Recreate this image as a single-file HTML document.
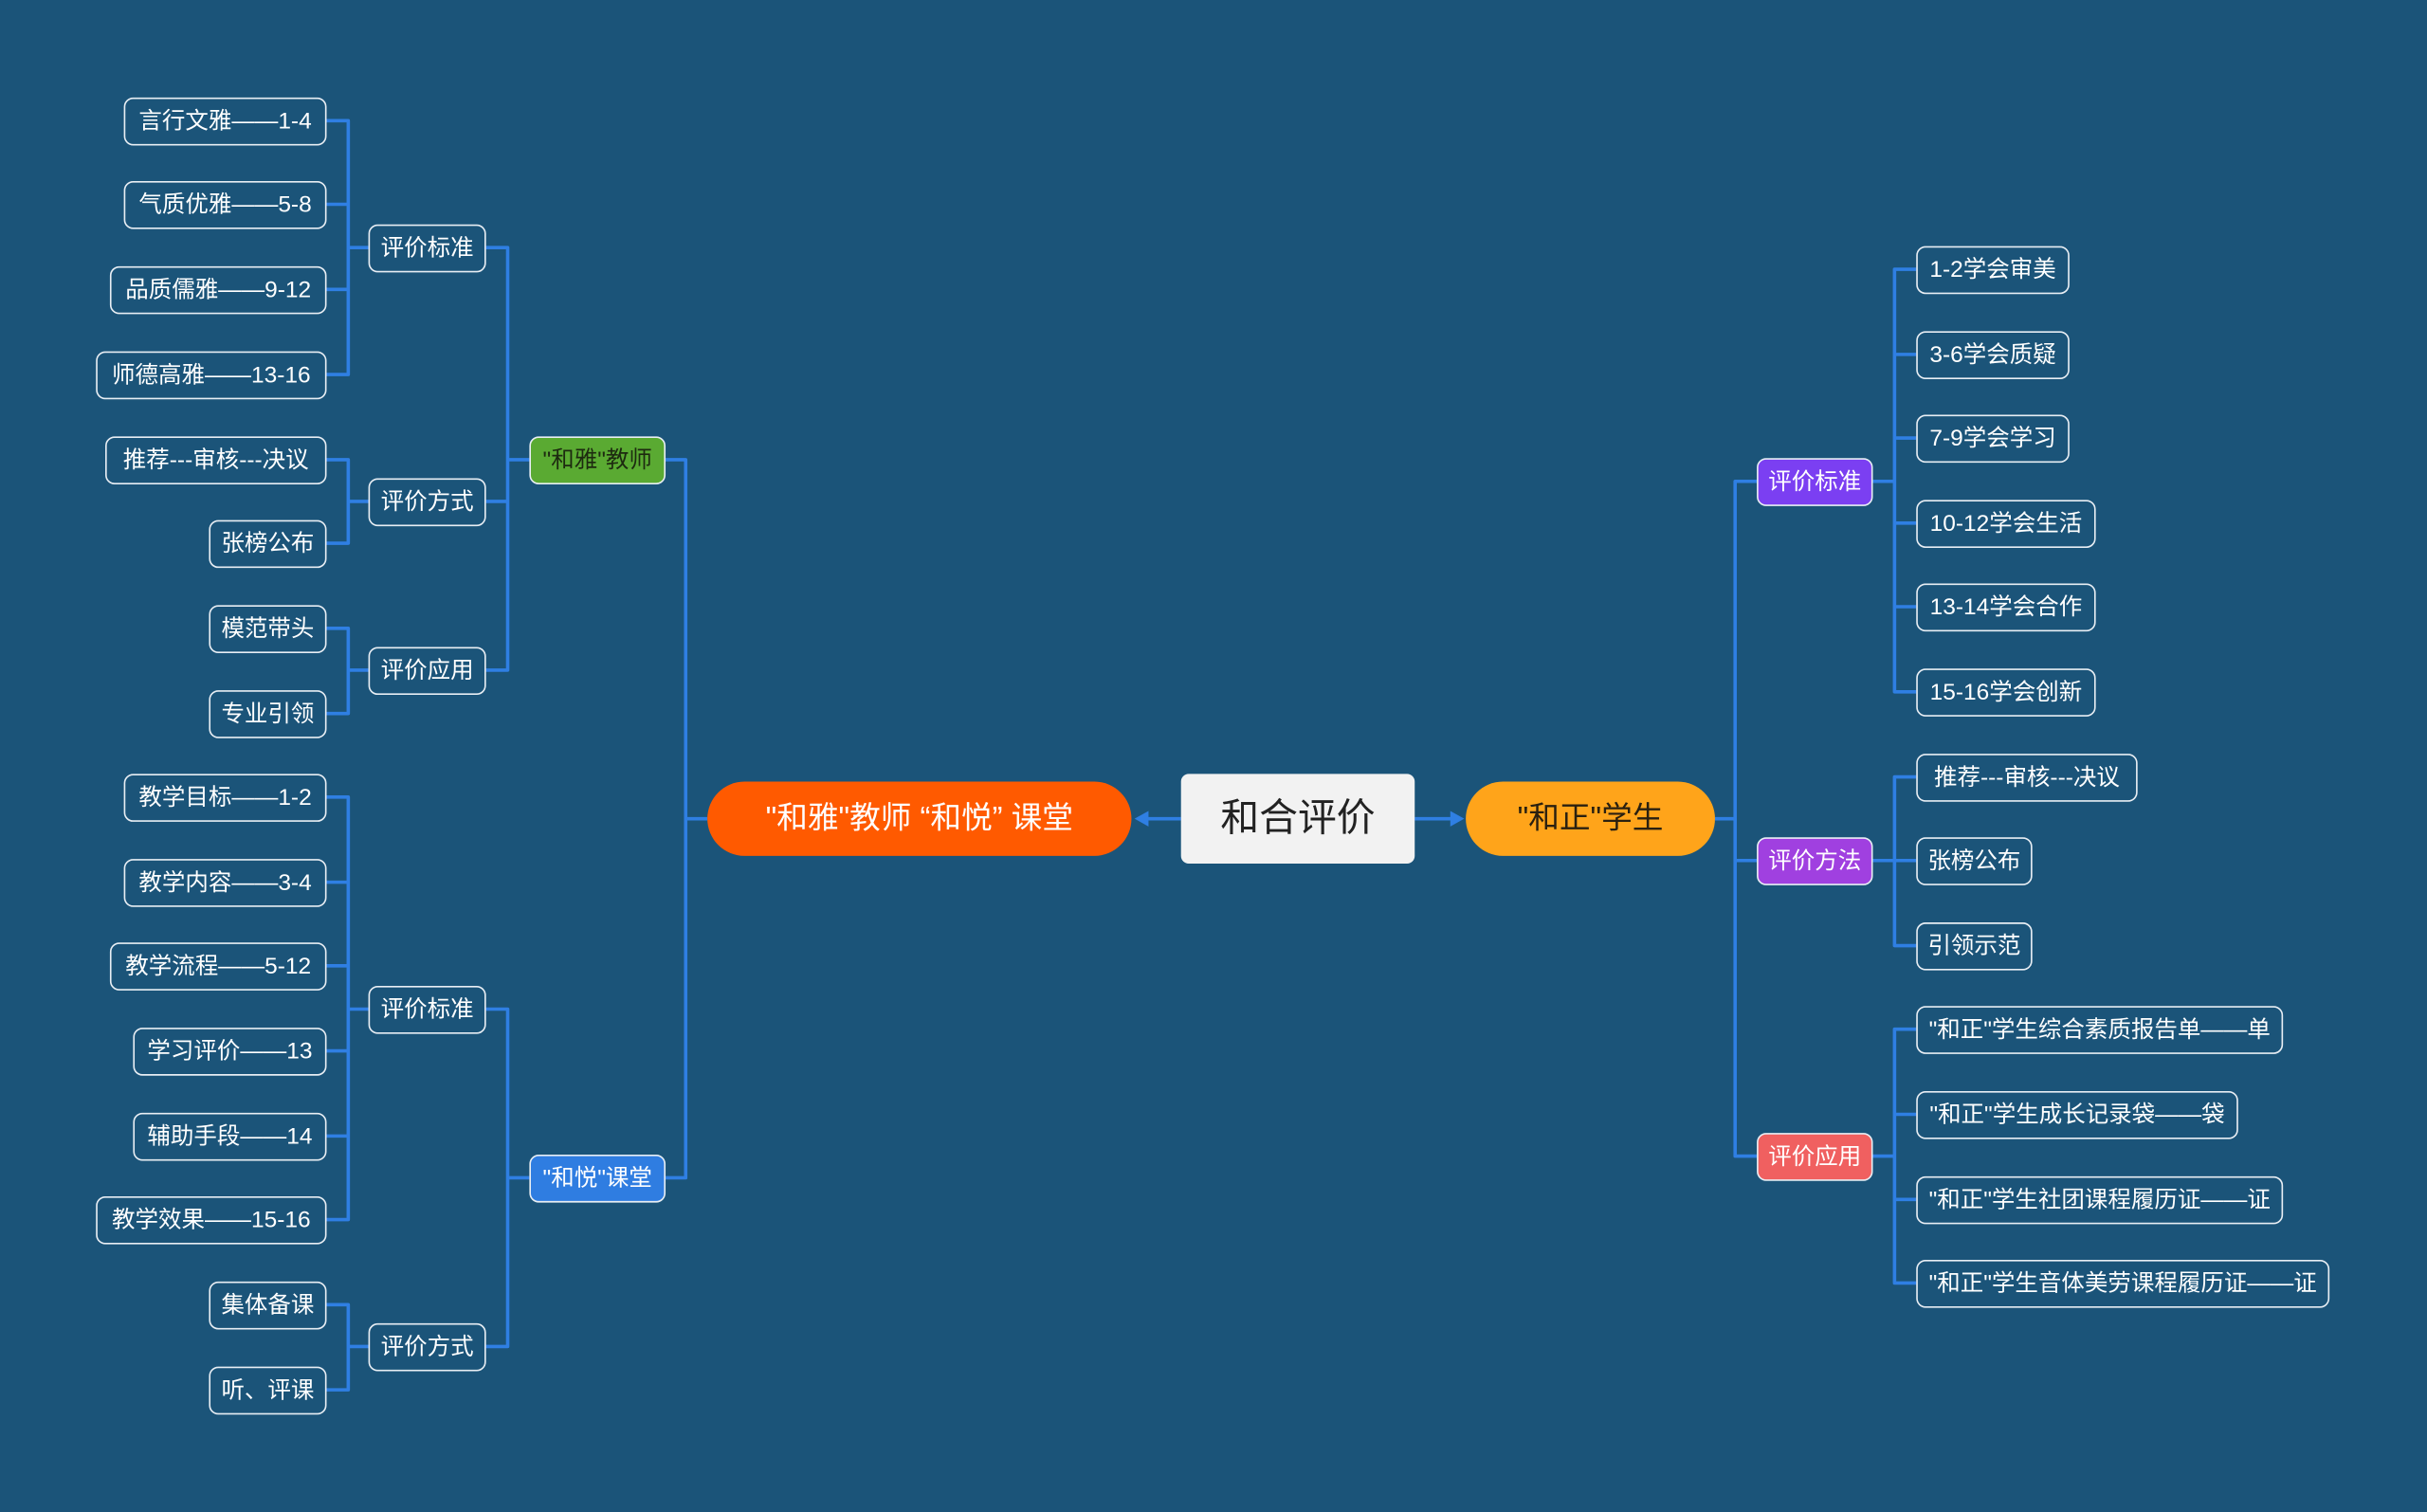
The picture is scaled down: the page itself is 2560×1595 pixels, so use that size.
<!DOCTYPE html>
<html><head><meta charset="utf-8">
<style>
html,body{margin:0;padding:0;width:2560px;height:1595px;overflow:hidden;background:#1b5479;}
#c{position:absolute;left:0;top:0;width:1568px;height:977px;transform:scale(1.63265);transform-origin:0 0;font-family:"Liberation Sans","Noto Sans CJK SC",sans-serif;}
.n{position:absolute;border:1.5px solid #e8eef4;border-radius:6px;color:#fff;font-size:15px;text-align:center;box-sizing:border-box;height:31px;line-height:30px;white-space:nowrap;background:#1b5479;}
svg{position:absolute;left:0;top:0;}
</style></head><body><div id="c">
<svg width="1568" height="977" fill="none" stroke="#2f7fe3" stroke-width="2.2" stroke-linejoin="round">
<path d="M238 160H225V78H211M225 132H211M225 160V242H211M225 187H211"/>
<path d="M238 324H225V297H211M225 324V351H211"/>
<path d="M238 433H225V406H211M225 433V461H211"/>
<path d="M238 652H225V515H211M225 570H211M225 624H211M225 679H211M225 734H211M225 652V788H211"/>
<path d="M238 870H225V843H211M225 870V898H211"/>
<path d="M342 297H328V160H314M328 297V324H314M328 297V433H314"/>
<path d="M342 761H328V652H314M328 761V870H314"/>
<path d="M457 529H443V297H430M443 529V761H430"/>
<path d="M1108 529H1121V311H1135M1121 529V556H1135M1121 529V747H1135"/>
<path d="M1210 311H1224V174H1238M1224 229H1238M1224 283H1238M1224 338H1238M1224 392H1238M1224 311V447H1238"/>
<path d="M1210 556H1224V502H1238M1224 556H1238M1224 556V611H1238"/>
<path d="M1210 747H1224V665H1238M1224 720H1238M1224 775H1238M1224 747V829H1238"/>
<path d="M763 529H740M914 529H940"/>
</svg>
<svg width="1568" height="977" fill="#2f7fe3"><path d="M733 529l9-5v10z"/><path d="M946 529l-9-5v10z"/></svg>

<div class="n" style="left:80px;top:63px;width:131px">言行文雅——1-4</div>
<div class="n" style="left:80px;top:117px;width:131px">气质优雅——5-8</div>
<div class="n" style="left:71px;top:172px;width:140px">品质儒雅——9-12</div>
<div class="n" style="left:62px;top:227px;width:149px">师德高雅——13-16</div>
<div class="n" style="left:68px;top:282px;width:143px">推荐---审核---决议</div>
<div class="n" style="left:135px;top:336px;width:76px">张榜公布</div>
<div class="n" style="left:135px;top:391px;width:76px">模范带头</div>
<div class="n" style="left:135px;top:446px;width:76px">专业引领</div>
<div class="n" style="left:80px;top:500px;width:131px">教学目标——1-2</div>
<div class="n" style="left:80px;top:555px;width:131px">教学内容——3-4</div>
<div class="n" style="left:71px;top:609px;width:140px">教学流程——5-12</div>
<div class="n" style="left:86px;top:664px;width:125px">学习评价——13</div>
<div class="n" style="left:86px;top:719px;width:125px">辅助手段——14</div>
<div class="n" style="left:62px;top:773px;width:149px">教学效果——15-16</div>
<div class="n" style="left:135px;top:828px;width:76px">集体备课</div>
<div class="n" style="left:135px;top:883px;width:76px">听、评课</div>

<div class="n" style="left:238px;top:145px;width:76px">评价标准</div>
<div class="n" style="left:238px;top:309px;width:76px">评价方式</div>
<div class="n" style="left:238px;top:418px;width:76px">评价应用</div>
<div class="n" style="left:238px;top:637px;width:76px">评价标准</div>
<div class="n" style="left:238px;top:855px;width:76px">评价方式</div>

<div class="n" style="left:342px;top:282px;width:88px;background:#5aaa32;color:#1d2a10;">"和雅"教师</div>
<div class="n" style="left:342px;top:746px;width:88px;background:#2f7de1;">"和悦"课堂</div>

<div style="position:absolute;left:457px;top:505px;width:274px;height:48px;line-height:49px;border-radius:24px;background:#ff5a00;color:#fff;font-size:20px;text-align:center;white-space:pre;">"和雅"教师 “和悦” 课堂</div>
<div style="position:absolute;left:763px;top:500px;width:151px;height:58px;line-height:59px;border-radius:5px;background:#f2f2f2;color:#222;font-size:25px;text-align:center;">和合评价</div>
<div style="position:absolute;left:947px;top:505px;width:161px;height:48px;line-height:49px;border-radius:24px;background:#ffa41a;color:#2a2010;font-size:20px;text-align:center;">"和正"学生</div>

<div class="n" style="left:1135px;top:296px;width:75px;background:#7b3ff2;">评价标准</div>
<div class="n" style="left:1135px;top:541px;width:75px;background:#a040e0;">评价方法</div>
<div class="n" style="left:1135px;top:732px;width:75px;background:#f06060;">评价应用</div>

<div class="n" style="left:1238px;top:159px;width:99px">1-2学会审美</div>
<div class="n" style="left:1238px;top:214px;width:99px">3-6学会质疑</div>
<div class="n" style="left:1238px;top:268px;width:99px">7-9学会学习</div>
<div class="n" style="left:1238px;top:323px;width:116px">10-12学会生活</div>
<div class="n" style="left:1238px;top:377px;width:116px">13-14学会合作</div>
<div class="n" style="left:1238px;top:432px;width:116px">15-16学会创新</div>
<div class="n" style="left:1238px;top:487px;width:143px">推荐---审核---决议</div>
<div class="n" style="left:1238px;top:541px;width:75px">张榜公布</div>
<div class="n" style="left:1238px;top:596px;width:75px">引领示范</div>
<div class="n" style="left:1238px;top:650px;width:237px">"和正"学生综合素质报告单——单</div>
<div class="n" style="left:1238px;top:705px;width:208px">"和正"学生成长记录袋——袋</div>
<div class="n" style="left:1238px;top:760px;width:237px">"和正"学生社团课程履历证——证</div>
<div class="n" style="left:1238px;top:814px;width:267px">"和正"学生音体美劳课程履历证——证</div>
</div></body></html>
